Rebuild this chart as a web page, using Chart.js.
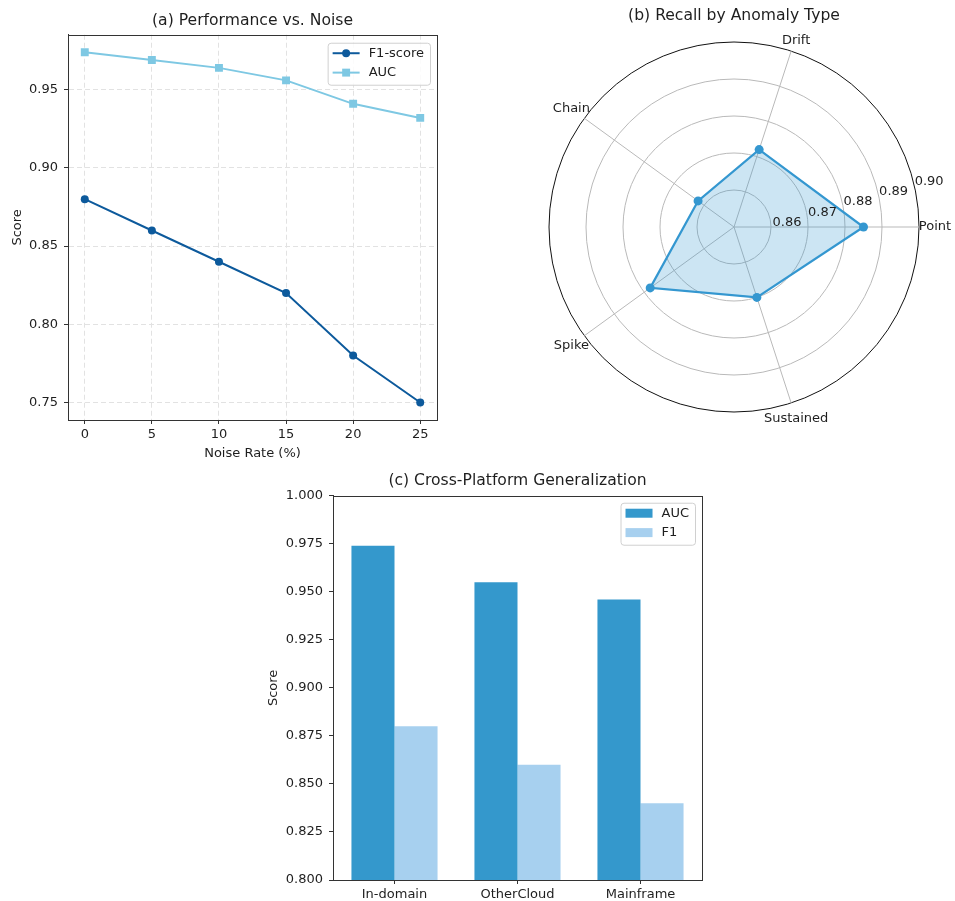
<!DOCTYPE html>
<html><head><meta charset="utf-8">
<script src="https://cdn.jsdelivr.net/npm/chart.js@4.4.1/dist/chart.umd.min.js"></script>
<style>
html,body{margin:0;padding:0;background:#fff;}
body{width:955px;height:901px;position:relative;overflow:hidden;}
canvas{position:absolute;}
#ca{left:0;top:0;}
#cb{left:480px;top:0;}
#cc{left:240px;top:465px;}
</style></head><body>
<canvas id="ca" width="460" height="470"></canvas>
<canvas id="cb" width="475" height="450"></canvas>
<canvas id="cc" width="480" height="436"></canvas>
<script>
// ---------- data ----------
const noiseRates = [0, 5, 10, 15, 20, 25];
const f1Noise = [0.88, 0.86, 0.84, 0.82, 0.78, 0.75];
const aucNoise = [0.974, 0.969, 0.964, 0.956, 0.941, 0.932];
const noiseXTicks = [0, 5, 10, 15, 20, 25];
const noiseYTicks = [0.75, 0.80, 0.85, 0.90, 0.95];

const anomalyTypes = ['Point', 'Drift', 'Chain', 'Spike', 'Sustained'];
const recallByType = [0.885, 0.872, 0.862, 0.878, 0.870];
const radarTicks = [0.85, 0.86, 0.87, 0.88, 0.89, 0.90];

const platforms = ['In-domain', 'OtherCloud', 'Mainframe'];
const aucPlatform = [0.974, 0.955, 0.946];
const f1Platform = [0.88, 0.86, 0.84];
const platformYTicks = [0.800, 0.825, 0.850, 0.875, 0.900, 0.925, 0.950, 0.975, 1.000];

// ---------- style ----------
const FONT = "'DejaVu Sans', sans-serif";
const FS = 13, TS = 15.6;
Chart.defaults.font.family = FONT;
Chart.defaults.font.size = FS;
Chart.defaults.color = '#1e1e1e';
const AX = '#333';

const framePlugin = {
  id: 'frame',
  afterDatasetsDraw(chart, args, opts) {
    if (!opts || !opts.on) return;
    const {ctx, chartArea: a} = chart;
    const L = Math.round(a.left), T = Math.round(a.top), R = Math.round(a.right), B = Math.round(a.bottom);
    ctx.save();
    ctx.strokeStyle = AX; ctx.lineWidth = 1; ctx.setLineDash([]);
    ctx.strokeRect(L + 0.5, T + 0.5, R - L, B - T);
    ctx.restore();
  }
};

const boxLegend = {
  id: 'boxLegend',
  afterDraw(chart, args, opts) {
    if (!opts || !opts.on) return;
    const {ctx, chartArea: a} = chart;
    const items = chart.data.datasets;
    ctx.save();
    ctx.font = FS + 'px ' + FONT;
    const textW = Math.max(...items.map(d => ctx.measureText(d.label).width));
    const padL = 5, handleW = 27, gap = 9, padR = 6, rowH = 19.4;
    const w = padL + handleW + gap + textW + padR, h = 42;
    const right = a.right - 7, top = a.top + opts.top, left = right - w;
    ctx.beginPath();
    ctx.roundRect(left + 0.5, top + 0.5, w, h, 3);
    ctx.fillStyle = 'rgba(255,255,255,0.85)'; ctx.fill();
    ctx.strokeStyle = '#d0d0d0'; ctx.lineWidth = 1; ctx.stroke();
    items.forEach((d, i) => {
      const cy = top + 10.5 + i * rowH;
      const hx = left + padL;
      if (opts.kind === 'line') {
        ctx.strokeStyle = d.borderColor; ctx.lineWidth = d.borderWidth;
        ctx.beginPath(); ctx.moveTo(hx, cy); ctx.lineTo(hx + handleW, cy); ctx.stroke();
        ctx.fillStyle = d.borderColor;
        const mx = hx + handleW / 2;
        if (d.pointStyle === 'rect') {
          const s = d.pointRadius * Math.SQRT1_2;
          ctx.fillRect(mx - s, cy - s, 2 * s, 2 * s);
        } else {
          ctx.beginPath(); ctx.arc(mx, cy, d.pointRadius, 0, Math.PI * 2); ctx.fill();
        }
      } else {
        ctx.fillStyle = d.backgroundColor;
        ctx.fillRect(hx, cy - 4.5, handleW, 9);
      }
      ctx.fillStyle = '#1e1e1e'; ctx.textAlign = 'left'; ctx.textBaseline = 'middle';
      ctx.fillText(d.label, hx + handleW + gap, cy);
    });
    ctx.restore();
  }
};

const radarText = {
  id: 'radarText',
  afterDraw(chart, args, opts) {
    if (!opts || !opts.on) return;
    const s = chart.scales.r, ctx = chart.ctx;
    ctx.save();
    ctx.font = FS + 'px ' + FONT;
    ctx.fillStyle = '#1e1e1e'; ctx.textAlign = 'center'; ctx.textBaseline = 'middle';
    chart.data.labels.forEach((lab, i) => {
      const p = s.getPointPosition(i, s.drawingArea + 16);
      const dy = p.y < s.yCenter - s.drawingArea * 0.8 ? 5 : 0;
      ctx.fillText(lab, p.x, p.y + dy);
    });
    radarTicks.slice(1).forEach(v => {
      const r = s.getDistanceFromCenterForValue(v);
      ctx.fillText(v.toFixed(2), s.xCenter + 17.5 + 0.96 * r, s.yCenter + 5.45 - 0.274 * r);
    });
    ctx.restore();
  }
};

Chart.register(framePlugin, boxLegend, radarText);

const baseOpts = {responsive: false, animation: false, devicePixelRatio: 1, events: []};

// ---------- (a) ----------
new Chart(document.getElementById('ca'), {
  type: 'line',
  data: {
    datasets: [
      {label: 'F1-score', data: noiseRates.map((x, i) => ({x, y: f1Noise[i]})),
       borderColor: '#0d5a9c', backgroundColor: '#0d5a9c', pointBackgroundColor: '#0d5a9c', pointBorderWidth: 0,
       pointStyle: 'circle', pointRadius: 4, borderWidth: 2, tension: 0},
      {label: 'AUC', data: noiseRates.map((x, i) => ({x, y: aucNoise[i]})),
       borderColor: '#7ec8e3', backgroundColor: '#7ec8e3', pointBackgroundColor: '#7ec8e3', pointBorderWidth: 0,
       pointStyle: 'rect', pointRadius: 5.6, borderWidth: 2, tension: 0}
    ]
  },
  options: Object.assign({}, baseOpts, {
    layout: {padding: {left: 0, right: 23, top: 0, bottom: 0}},
    plugins: {
      legend: {display: false}, tooltip: {enabled: false},
      title: {display: true, text: '(a) Performance vs. Noise', fullSize: false, color: '#1e1e1e',
              font: {size: TS, weight: 'normal'}, padding: {top: 12, bottom: 4}},
      frame: {on: true},
      boxLegend: {on: true, kind: 'line', top: 8}
    },
    scales: {
      x: {type: 'linear', min: -1.25, max: 26.25,
          afterBuildTicks: s => { s.ticks = noiseXTicks.map(v => ({value: v})); },
          afterFit: s => { s.height = 50; },
          ticks: {padding: 3, callback: v => String(v)},
          grid: {color: '#e2e2e2', lineWidth: 1, tickColor: AX, tickLength: 4, tickWidth: 1},
          border: {color: AX, width: 1, dash: [5, 3]},
          title: {display: true, text: 'Noise Rate (%)', font: {size: FS}, padding: {top: 0, bottom: 9}}},
      y: {type: 'linear', min: 0.7388, max: 0.9852,
          afterBuildTicks: s => { s.ticks = noiseYTicks.map(v => ({value: v})); },
          afterFit: s => { s.width = 68; },
          ticks: {padding: 6, callback: v => v.toFixed(2)},
          grid: {color: '#e2e2e2', lineWidth: 1, tickColor: AX, tickLength: 4, tickWidth: 1},
          border: {color: AX, width: 1, dash: [5, 3]},
          title: {display: true, text: 'Score', font: {size: FS}, padding: {top: 10, bottom: 0}}}
    }
  })
});

// ---------- (b) ----------
const radarOrder = [0].concat(anomalyTypes.slice(1).map((_, i) => anomalyTypes.length - 1 - i));
new Chart(document.getElementById('cb'), {
  type: 'radar',
  data: {
    labels: radarOrder.map(i => anomalyTypes[i]),
    datasets: [{
      label: 'Recall', data: radarOrder.map(i => recallByType[i]),
      borderColor: '#3497d0', backgroundColor: 'rgba(52,151,208,0.25)', fill: true,
      pointBackgroundColor: '#3497d0', pointBorderColor: '#3497d0', pointBorderWidth: 0,
      pointRadius: 4.5, borderWidth: 2.2
    }]
  },
  options: Object.assign({}, baseOpts, {
    layout: {padding: {left: 69, right: 36, top: 0, bottom: 37}},
    plugins: {
      legend: {display: false}, tooltip: {enabled: false},
      title: {display: true, text: '(b) Recall by Anomaly Type', fullSize: false, color: '#1e1e1e',
              font: {size: TS, weight: 'normal'}, padding: {top: 7, bottom: 17}},
      radarText: {on: true}
    },
    scales: {
      r: {min: 0.85, max: 0.90, startAngle: 90,
          afterBuildTicks: s => { s.ticks = radarTicks.map(v => ({value: v})); },
          ticks: {display: false},
          pointLabels: {display: false},
          grid: {circular: true, lineWidth: 1,
                 color: c => c.index === radarTicks.length - 1 ? '#111' : '#b9b9b9'},
          angleLines: {color: '#b9b9b9', lineWidth: 1}}
    }
  })
});

// ---------- (c) ----------
new Chart(document.getElementById('cc'), {
  type: 'bar',
  data: {
    labels: platforms,
    datasets: [
      {label: 'AUC', data: aucPlatform, backgroundColor: '#3498cc', borderWidth: 0},
      {label: 'F1', data: f1Platform, backgroundColor: '#a7d0ef', borderWidth: 0}
    ]
  },
  options: Object.assign({}, baseOpts, {
    datasets: {bar: {categoryPercentage: 0.7, barPercentage: 1.0}},
    layout: {padding: {left: 0, right: 18, top: 0, bottom: 0}},
    plugins: {
      legend: {display: false}, tooltip: {enabled: false},
      title: {display: true, text: '(c) Cross-Platform Generalization', fullSize: false, color: '#1e1e1e',
              font: {size: TS, weight: 'normal'}, padding: {top: 7, bottom: 5}},
      frame: {on: true},
      boxLegend: {on: true, kind: 'patch', top: 7}
    },
    scales: {
      x: {afterFit: s => { s.height = 21; },
          ticks: {padding: 3},
          grid: {offset: false, drawOnChartArea: false, tickColor: AX, tickLength: 4, tickWidth: 1},
          border: {color: AX, width: 1}},
      y: {min: 0.8, max: 1.0,
          afterBuildTicks: s => { s.ticks = platformYTicks.map(v => ({value: v})); },
          afterFit: s => { s.width = 93; },
          ticks: {padding: 6, callback: v => v.toFixed(3)},
          grid: {drawOnChartArea: false, tickColor: AX, tickLength: 4, tickWidth: 1},
          border: {color: AX, width: 1},
          title: {display: true, text: 'Score', font: {size: FS}, padding: {top: 26, bottom: 0}}}
    }
  })
});
</script>
</body></html>
